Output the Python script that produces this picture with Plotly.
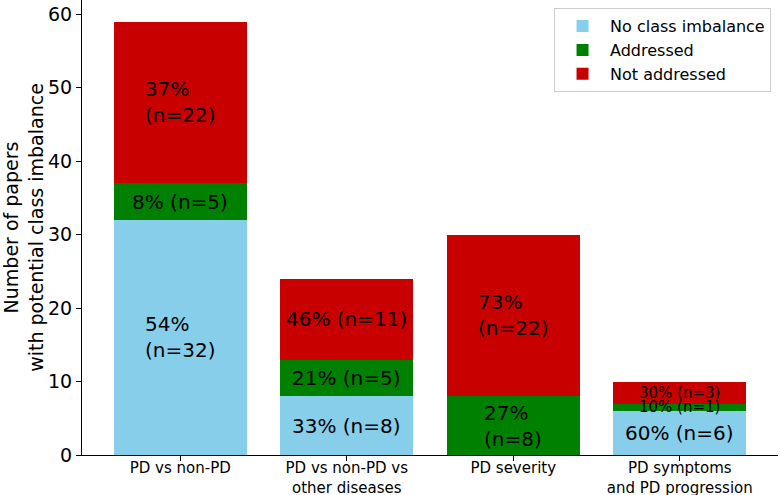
import plotly.graph_objects as go

categories = ["PD vs non-PD", "PD vs non-PD vs\nother diseases", "PD severity",
              "PD symptoms\nand PD progression"]
no_imbalance = [32, 8, 0, 6]
addressed = [5, 5, 8, 1]
not_addressed = [22, 11, 22, 3]
series_names = ["No class imbalance", "Addressed", "Not addressed"]
colors = ["#87CEEB", "#008000", "#C80000"]
# labels that are wrapped onto two lines in the original (category index, series index)
wrapped = {(0, 2), (0, 0), (2, 2), (2, 1)}

series = [no_imbalance, addressed, not_addressed]
cats = [c.replace("\n", "<br>") for c in categories]
totals = [sum(v) for v in zip(*series)]

FONT = "DejaVu Sans"
fig = go.Figure()
for name, vals, col in zip(series_names, series, colors):
    fig.add_trace(go.Bar(x=cats, y=vals, name=name, marker=dict(color=col, line=dict(width=0)),
                         width=0.8))

for ci, cat in enumerate(cats):
    base = 0
    for si, vals in enumerate(series):
        v = vals[ci]
        if v > 0:
            pct = round(v / totals[ci] * 100)
            sep = "<br>" if (ci, si) in wrapped else " "
            txt = f"{pct}%{sep}(n={v})"
            size = 15 if v < 4 else 20
            fig.add_annotation(x=cat, y=base + v / 2, text=txt, showarrow=False,
                               xanchor="center", yanchor="middle", align="left",
                               font=dict(family=FONT, size=size, color="black"))
        base += v

fig.update_layout(
    barmode="stack",
    width=780, height=495,
    margin=dict(l=82, r=2, t=0, b=40),
    paper_bgcolor="white", plot_bgcolor="white",
    font=dict(family=FONT, color="black"),
    showlegend=True,
    legend=dict(x=0.99, y=0.982, xanchor="right", yanchor="top", traceorder="normal",
                bgcolor="white", bordercolor="#cccccc", borderwidth=1,
                itemwidth=45,
                font=dict(family=FONT, size=16)),
    xaxis=dict(range=[-0.59, 3.59], showline=True, linecolor="black", linewidth=1,
               ticks="outside", ticklen=5, tickcolor="black", showgrid=False,
               automargin=False, ticklabelstandoff=-6,
               tickfont=dict(family=FONT, size=15)),
    yaxis=dict(range=[0, 61.95], showline=True, linecolor="black", linewidth=1,
               ticks="outside", ticklen=5, tickcolor="black", showgrid=False,
               automargin=False,
               zeroline=False, tickvals=[0, 10, 20, 30, 40, 50, 60],
               tickfont=dict(family=FONT, size=19),
               title=dict(text="Number of papers<br>with potential class imbalance",
                          font=dict(family=FONT, size=19), standoff=4)),
)
fig.write_html("out.html", config={"displayModeBar": False},
               post_script="document.body.style.margin='0';document.body.style.overflow='hidden';")
